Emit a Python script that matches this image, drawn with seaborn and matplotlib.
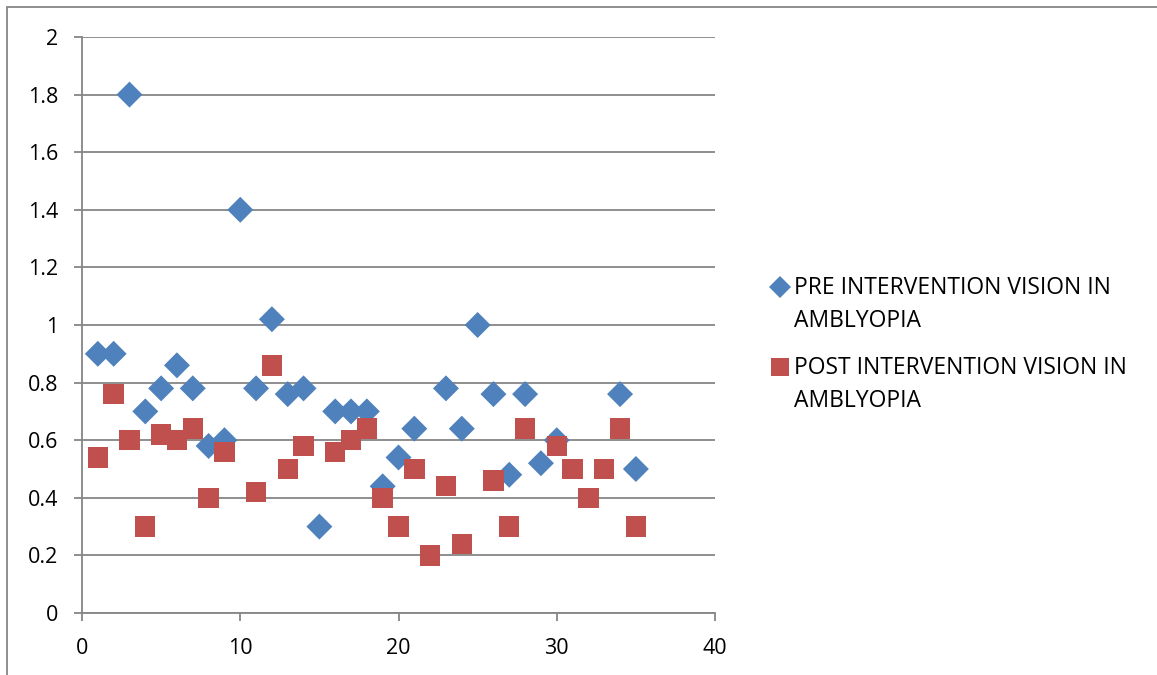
import numpy as np
import pandas as pd
import matplotlib
matplotlib.use("Agg")
import matplotlib.pyplot as plt
from matplotlib.lines import Line2D
from matplotlib.patches import Rectangle
import seaborn as sns

# Patient index and visual acuity before / after intervention
patient = list(range(1, 36))
pre_vision = [0.90, 0.90, 1.80, 0.70, 0.78, 0.86, 0.78, 0.58, 0.60, 1.40,
              0.78, 1.02, 0.76, 0.78, 0.30, 0.70, 0.70, 0.70, 0.44, 0.54,
              0.64, np.nan, 0.78, 0.64, 1.00, 0.76, 0.48, 0.76, 0.52, 0.60,
              np.nan, np.nan, np.nan, 0.76, 0.50]
post_vision = [0.54, 0.76, 0.60, 0.30, 0.62, 0.60, 0.64, 0.40, 0.56, np.nan,
               0.42, 0.86, 0.50, 0.58, np.nan, 0.56, 0.60, 0.64, 0.40, 0.30,
               0.50, 0.20, 0.44, 0.24, np.nan, 0.46, 0.30, 0.64, np.nan, 0.58,
               0.50, 0.40, 0.50, 0.64, 0.30]

pre_label = "PRE INTERVENTION VISION IN\nAMBLYOPIA"
post_label = "POST INTERVENTION VISION IN\nAMBLYOPIA"
x_ticks = [0, 10, 20, 30, 40]
y_ticks = [0, 0.2, 0.4, 0.6, 0.8, 1.0, 1.2, 1.4, 1.6, 1.8, 2.0]
y_tick_labels = ["0", "0.2", "0.4", "0.6", "0.8", "1", "1.2", "1.4", "1.6", "1.8", "2"]

BLUE = "#4F81BD"
RED = "#C0504D"
GRID = "#868686"

sns.set_theme(style="white")
plt.rcParams["font.family"] = ["Open Sans", "DejaVu Sans"]

W, H = 1157, 675
fig = plt.figure(figsize=(W / 100, H / 100), dpi=100)
ax = fig.add_axes([82 / W, 1 - 613 / H, (715 - 82) / W, (613 - 37) / H])

df = pd.DataFrame({"patient": patient, "pre": pre_vision, "post": post_vision})

sns.scatterplot(data=df, x="patient", y="pre", marker="D", s=175, color=BLUE,
                edgecolor="none", linewidth=0, ax=ax, zorder=3)
sns.scatterplot(data=df, x="patient", y="post", marker="s", s=215, color=RED,
                edgecolor="none", linewidth=0, ax=ax, zorder=4)

ax.set_xlim(0, 40)
ax.set_ylim(0, 2)
ax.set_xticks(x_ticks)
ax.set_yticks(y_ticks)
ax.set_yticklabels(y_tick_labels)
ax.set_xlabel("")
ax.set_ylabel("")

ax.grid(axis="y", color=GRID, linewidth=1.3)
ax.grid(axis="x", visible=False)
ax.set_axisbelow(True)
for side in ["top", "right"]:
    ax.spines[side].set_visible(False)
for side in ["left", "bottom"]:
    ax.spines[side].set_color(GRID)
    ax.spines[side].set_linewidth(1.3)

ax.tick_params(axis="both", which="major", direction="out", length=6, width=1.3,
               color=GRID, labelsize=15.5, labelcolor="black")
ax.tick_params(axis="y", pad=11)
ax.tick_params(axis="x", pad=12)
ax.tick_params(left=True, bottom=True)

# Legend entries to the right of the plot area
legend_items = [
    (pre_label, "D", 11.5, BLUE, 287),
    (post_label, "s", 12.6, RED, 367),
]
for label, mk, ms, col, y_first in legend_items:
    fig.add_artist(Line2D([780 / W], [1 - y_first / H], transform=fig.transFigure,
                          marker=mk, markersize=ms, color=col,
                          markeredgewidth=0, linestyle="none"))
    fig.text(794 / W, 1 - (y_first + 17.5) / H, label, ha="left", va="center",
             fontsize=16.5, linespacing=1.5, color="black")

# Chart-area frame
fig.patches.append(Rectangle((7 / W, -0.1), 1.2, 1 - 7 / H + 0.1,
                             transform=fig.transFigure, fill=False,
                             edgecolor=GRID, linewidth=1.3))

fig.savefig("out.png", dpi=100)
